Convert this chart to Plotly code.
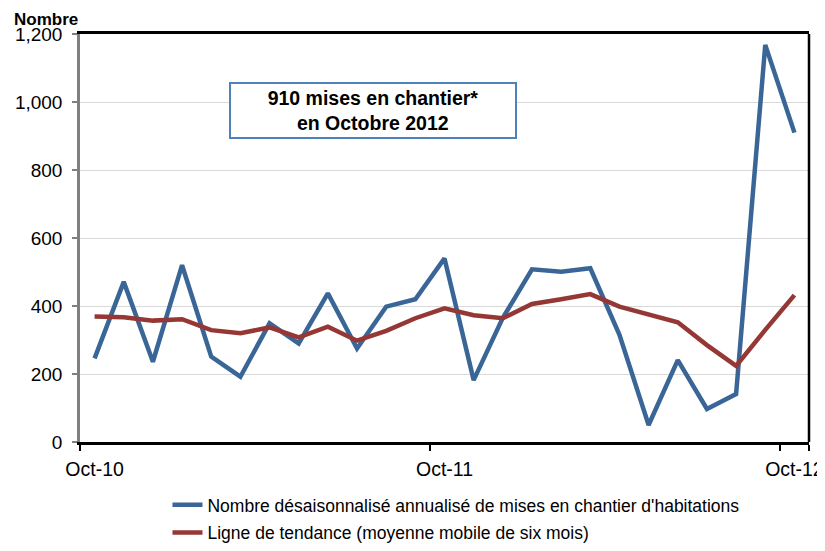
import plotly.graph_objects as go

months = ["Oct-10", "Nov-10", "Dec-10", "Jan-11", "Feb-11", "Mar-11", "Apr-11",
          "May-11", "Jun-11", "Jul-11", "Aug-11", "Sep-11", "Oct-11", "Nov-11",
          "Dec-11", "Jan-12", "Feb-12", "Mar-12", "Apr-12", "May-12", "Jun-12",
          "Jul-12", "Aug-12", "Sep-12", "Oct-12"]
starts = [246, 471, 236, 520, 251, 192, 349, 290, 437, 275, 398, 420, 540, 182,
          365, 508, 501, 511, 315, 50, 241, 97, 141, 1168, 910]
trend = [369, 367, 357, 361, 329, 320, 337, 308, 339, 298, 327, 364, 393, 373,
         364, 406, 420, 435, 398, 376, 352, 285, 224, 330, 432]
tick_labels = ["Oct-10", "Oct-11", "Oct-12"]
y_ticks = [0, 200, 400, 600, 800, 1000, 1200]

name_starts = "Nombre désaisonnalisé annualisé de mises en chantier d'habitations"
name_trend = "Ligne de tendance (moyenne mobile de six mois)"

FONT = "Liberation Sans, Arial, sans-serif"
BLUE = "#3A6697"
RED = "#953735"

fig = go.Figure()
fig.add_trace(go.Scatter(x=months, y=starts, mode="lines", name=name_starts,
                         legendgroup="a",
                         line=dict(color=BLUE, width=4.5)))
fig.add_trace(go.Scatter(x=months, y=trend, mode="lines", name=name_trend,
                         legendgroup="b",
                         line=dict(color=RED, width=4.5)))

fig.update_layout(
    width=817, height=543,
    margin=dict(l=72, r=16, t=26, b=109),
    paper_bgcolor="white", plot_bgcolor="white",
    font=dict(family=FONT, size=17, color="black"),
    showlegend=True,
    legend=dict(x=0.12, y=0.118, xanchor="left", yanchor="top",
                yref="container",
                orientation="v", font=dict(size=17.5, family=FONT),
                itemwidth=30, tracegroupgap=2, bgcolor="rgba(0,0,0,0)"),
    xaxis=dict(type="category", categoryorder="array", categoryarray=months,
               range=[-0.5, 24.5], tickvals=tick_labels, ticktext=tick_labels,
               tickson="boundaries", ticks="outside", ticklen=6, tickwidth=1.5,
               tickcolor="black", showgrid=False, showline=True,
               linecolor="black", linewidth=2.5, mirror=True, tickangle=0,
               automargin=False,
               tickfont=dict(size=19.5), ticklabelstandoff=8, zeroline=False),
    yaxis=dict(range=[0, 1200], tickvals=y_ticks, tickformat=",",
               ticks="outside", ticklen=5, tickcolor="#808080", tickwidth=1.5,
               showline=True, linecolor="#808080", linewidth=2.5,
               showgrid=True, gridcolor="#D9D9D9", gridwidth=1.2,
               automargin=False,
               tickfont=dict(size=19), ticklabelstandoff=6, zeroline=False),
)

# right frame border
fig.add_shape(type="line", xref="paper", yref="paper", x0=1, x1=1, y0=0, y1=1,
              line=dict(color="black", width=2.5))

fig.add_annotation(xref="paper", yref="paper", x=-0.093, y=1.0637,
                   xanchor="left", yanchor="top", showarrow=False,
                   text="<b>Nombre</b>", font=dict(size=17, family=FONT))

fig.add_annotation(xref="paper", yref="paper", x=0.402, y=0.8125,
                   xanchor="center", yanchor="middle", showarrow=False,
                   text="<b>910 mises en chantier*<br>en Octobre 2012</b>",
                   font=dict(size=19.5, family=FONT), align="center",
                   bordercolor="#4F81BD", borderwidth=2, bgcolor="white",
                   width=282, height=51)

fig.write_html("out.html")
